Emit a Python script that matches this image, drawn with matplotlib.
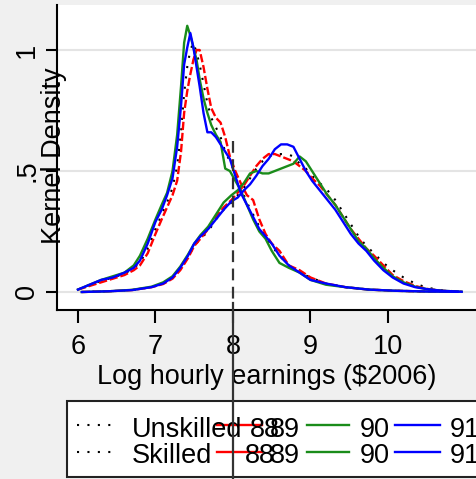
import matplotlib
matplotlib.use("Agg")
import matplotlib.pyplot as plt
from matplotlib.lines import Line2D
from matplotlib.patches import Rectangle

plt.rcParams['font.family'] = ['Liberation Sans', 'DejaVu Sans']

# kernel density of log hourly earnings, unskilled workers
uns_x = [6.00, 6.15, 6.30, 6.45, 6.60, 6.72, 6.80, 6.90, 7.00, 7.08,
         7.15, 7.22, 7.28, 7.33, 7.37, 7.41, 7.45, 7.49, 7.53, 7.57,
         7.62, 7.67, 7.72, 7.78, 7.84, 7.90, 7.96, 8.03, 8.10, 8.18,
         8.26, 8.34, 8.42, 8.50, 8.60, 8.72, 8.86, 9.00, 9.20, 9.45,
         9.75, 10.1, 10.5, 10.9]
uns_dot = [.01, .03, .045, .06, .075, .10, .12, .18, .26, .32,
           .37, .43, .52, .66, .82, .93, 1.00, 1.03, .99, .94,
           .86, .78, .72, .68, .64, .58, .54, .49, .43, .37,
           .32, .27, .23, .19, .15, .11, .08, .06, .035, .02,
           .01, .005, .002, .001]
uns_red = [.01, .025, .04, .055, .07, .09, .11, .16, .24, .30,
           .35, .40, .46, .58, .74, .83, .90, .96, 1.00, 1.00,
           .93, .84, .76, .72, .70, .64, .56, .50, .45, .40,
           .38, .30, .24, .20, .17, .11, .09, .06, .035, .02,
           .01, .005, .002, .001]
uns_90 = [.01, .03, .05, .065, .08, .11, .15, .22, .30, .36,
          .41, .50, .65, .85, 1.03, 1.10, 1.06, 1.01, .96, .88,
          .80, .74, .69, .65, .62, .51, .50, .46, .42, .36,
          .30, .25, .22, .17, .12, .10, .08, .05, .03, .02,
          .01, .005, .002, .001]
uns_91 = [.01, .03, .05, .06, .08, .10, .13, .20, .29, .34,
          .40, .47, .60, .77, .94, 1.01, 1.07, 1.01, .93, .85,
          .74, .66, .66, .64, .61, .58, .55, .48, .41, .36,
          .31, .26, .23, .20, .15, .11, .08, .05, .035, .02,
          .01, .005, .002, .001]

# skilled workers
sk_x = [6.05, 6.40, 6.70, 6.95, 7.10, 7.22, 7.32, 7.42, 7.50, 7.58,
        7.68, 7.78, 7.88, 7.98, 8.06, 8.14, 8.22, 8.30, 8.38, 8.46,
        8.54, 8.62, 8.70, 8.78, 8.86, 8.94, 9.02, 9.12, 9.22, 9.32,
        9.42, 9.52, 9.62, 9.72, 9.82, 9.94, 10.06, 10.2, 10.35, 10.5,
        10.7, 10.95]
sk_dot = [.00, .003, .008, .02, .035, .06, .095, .145, .19, .22,
          .25, .30, .34, .37, .40, .43, .47, .51, .54, .56,
          .57, .57, .57, .56, .53, .51, .48, .45, .42, .38,
          .33, .28, .23, .19, .16, .12, .09, .06, .035, .018,
          .007, .001]
sk_red = [.00, .003, .008, .02, .033, .055, .09, .14, .19, .22,
          .26, .31, .35, .38, .41, .44, .48, .52, .55, .57,
          .57, .56, .55, .54, .52, .50, .47, .44, .40, .36,
          .31, .26, .22, .18, .15, .11, .07, .045, .025, .013,
          .005, .001]
sk_90 = [.00, .003, .009, .022, .04, .065, .105, .155, .20, .235,
         .27, .32, .37, .40, .42, .45, .49, .50, .49, .49,
         .50, .51, .52, .53, .56, .54, .50, .45, .40, .36,
         .31, .26, .21, .18, .14, .10, .065, .04, .022, .012,
         .005, .001]
sk_91 = [.00, .003, .008, .02, .035, .06, .10, .15, .20, .23,
         .26, .30, .34, .375, .39, .42, .445, .48, .52, .55,
         .59, .61, .61, .60, .55, .50, .46, .42, .38, .34,
         .29, .24, .20, .17, .13, .09, .06, .035, .02, .012,
         .005, .001]

xticks = [6, 7, 8, 9, 10]
yticks = [0, 0.5, 1]
ytick_labels = ['0', '.5', '1']
cutoff = 8
cutoff_top = 0.624

W, H = 476, 479
fig = plt.figure(figsize=(W / 100, H / 100), dpi=100, facecolor='#f0f0f0')
ax = fig.add_axes([57 / W, 1 - 310 / H, 1 - 57 / W, 305 / H])
ax.set_facecolor('white')

ax.set_xlim(5.73, 11.135)
ax.set_ylim(-0.0744, 1.186)

for v in yticks:
    ax.axhline(v, color='#e4e4e4', lw=1.5, zorder=0)

blue, red, green = '#0000ff', '#ff0000', '#1a8c1a'
for xs, ys in [(uns_x, uns_dot), (sk_x, sk_dot)]:
    ax.plot(xs, ys, color='black', lw=1.5, linestyle=(0, (1, 4)), zorder=2)
for xs, ys in [(uns_x, uns_red), (sk_x, sk_red)]:
    ax.plot(xs, ys, color=red, lw=1.7, dashes=(3.5, 1.2), zorder=3)
for xs, ys in [(uns_x, uns_90), (sk_x, sk_90)]:
    ax.plot(xs, ys, color=green, lw=1.7, zorder=4)
for xs, ys in [(uns_x, uns_91), (sk_x, sk_91)]:
    ax.plot(xs, ys, color=blue, lw=1.7, zorder=5)

for s in ['top', 'right']:
    ax.spines[s].set_visible(False)
for s in ['left', 'bottom']:
    ax.spines[s].set_linewidth(1.5)

ax.set_xticks(xticks)
ax.set_xticklabels([str(t) for t in xticks])
ax.set_yticks(yticks)
ax.set_yticklabels(ytick_labels, rotation=90, va='center')
ax.tick_params(axis='x', length=9, width=1.5, pad=8, labelsize=19.5)
ax.tick_params(axis='y', length=8, width=1.5, pad=4, labelsize=19.5)
ax.set_xlabel('Log hourly earnings ($2006)', fontsize=19.5, labelpad=3)
fig.text(61 / W, 1 - 156 / H, 'Kernel Density', rotation=90,
         rotation_mode='anchor', ha='center', va='baseline', fontsize=19.5)


def fp(x, y):
    return x / W, 1 - y / H


# legend box drawn by hand
x0, y0 = fp(67, 477)
fig.add_artist(Rectangle((x0, y0), 1.2, 76 / H, transform=fig.transFigure,
                         facecolor='white', edgecolor='#222222', lw=1.5,
                         zorder=3))
rows = [(425, 437, 'Unskilled', 250), (452, 463, 'Skilled', 245)]
for ly, by, name, x88 in rows:
    entries = [((77, 118), dict(color='black', lw=1.5, linestyle=(0, (1, 4)))),
               ((217, 262), dict(color=red, lw=1.7)),
               ((307, 349), dict(color=green, lw=1.7)),
               ((395, 440), dict(color=blue, lw=1.7))]
    for (xa, xb), style in entries:
        (fa, fy), (fb, _) = fp(xa, ly), fp(xb, ly)
        fig.add_artist(Line2D([fa, fb], [fy, fy], transform=fig.transFigure,
                              zorder=4, **style))
    for tx, label in [(132, name), (x88, '88'), (270, '89'), (360, '90'), (450, '91')]:
        fx, fy = fp(tx, by)
        fig.text(fx, fy, label, fontsize=19.5, ha='left', va='baseline', zorder=5)

# vertical reference line at the cutoff
fig.add_artist(Line2D([cutoff, cutoff], [cutoff_top, -0.045], transform=ax.transData,
                      color='#333333', lw=1.6, dashes=(5.3, 2.9), zorder=6))
fig.add_artist(Line2D([cutoff, cutoff], [-0.045, -0.8], transform=ax.transData,
                      color='#333333', lw=1.6, zorder=6))

fig.savefig('out.png', dpi=100, facecolor=fig.get_facecolor())
